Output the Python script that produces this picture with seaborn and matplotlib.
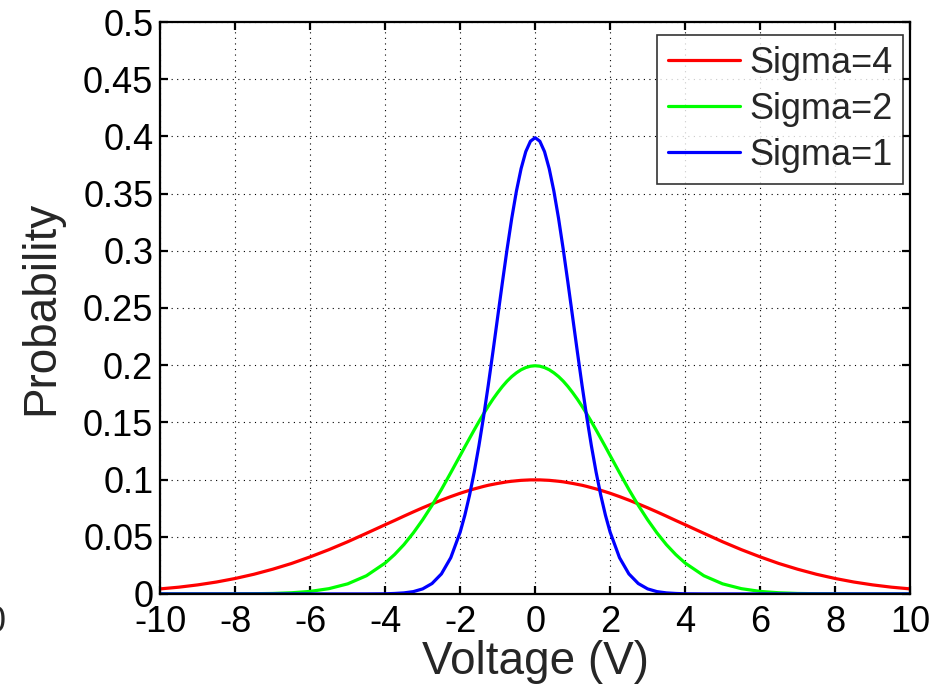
import matplotlib
matplotlib.use("Agg")
import matplotlib.pyplot as plt
import seaborn as sns
import pandas as pd

# voltage samples (finer near the peak)
voltage = [-10, -9.5, -9, -8.5, -8, -7.5, -7, -6.5, -6, -5.5, -5, -4.5,
           -4, -3.75, -3.5, -3.25, -3, -2.75, -2.5, -2.25,
           -2, -1.875, -1.75, -1.625, -1.5, -1.375, -1.25, -1.125,
           -1, -0.875, -0.75, -0.625, -0.5, -0.375, -0.25, -0.125, 0,
           0.125, 0.25, 0.375, 0.5, 0.625, 0.75, 0.875, 1,
           1.125, 1.25, 1.375, 1.5, 1.625, 1.75, 1.875, 2,
           2.25, 2.5, 2.75, 3, 3.25, 3.5, 3.75, 4,
           4.5, 5, 5.5, 6, 6.5, 7, 7.5, 8, 8.5, 9, 9.5, 10]

# probability
sigma4 = [0.0044, 0.0059, 0.0079, 0.0104, 0.0135, 0.0172, 0.0216, 0.0266, 0.0324, 0.0387, 0.0456, 0.0530,
          0.0605, 0.0642, 0.0680, 0.0717, 0.0753, 0.0787, 0.0820, 0.0851,
          0.0880, 0.0893, 0.0906, 0.0918, 0.0929, 0.0940, 0.0950, 0.0958,
          0.0966, 0.0973, 0.0980, 0.0985, 0.0989, 0.0993, 0.0995, 0.0997, 0.0997,
          0.0997, 0.0995, 0.0993, 0.0989, 0.0985, 0.0980, 0.0973, 0.0966,
          0.0958, 0.0950, 0.0940, 0.0929, 0.0918, 0.0906, 0.0893, 0.0880,
          0.0851, 0.0820, 0.0787, 0.0753, 0.0717, 0.0680, 0.0642, 0.0605,
          0.0530, 0.0456, 0.0387, 0.0324, 0.0266, 0.0216, 0.0172, 0.0135, 0.0104, 0.0079, 0.0059, 0.0044]
sigma2 = [0.0000, 0.0000, 0.0000, 0.0000, 0.0001, 0.0002, 0.0004, 0.0010, 0.0022, 0.0046, 0.0088, 0.0159,
          0.0270, 0.0344, 0.0431, 0.0533, 0.0648, 0.0775, 0.0913, 0.1060,
          0.1210, 0.1286, 0.1360, 0.1434, 0.1506, 0.1575, 0.1641, 0.1703,
          0.1760, 0.1813, 0.1860, 0.1900, 0.1933, 0.1960, 0.1979, 0.1991, 0.1995,
          0.1991, 0.1979, 0.1960, 0.1933, 0.1900, 0.1860, 0.1813, 0.1760,
          0.1703, 0.1641, 0.1575, 0.1506, 0.1434, 0.1360, 0.1286, 0.1210,
          0.1060, 0.0913, 0.0775, 0.0648, 0.0533, 0.0431, 0.0344, 0.0270,
          0.0159, 0.0088, 0.0046, 0.0022, 0.0010, 0.0004, 0.0002, 0.0001, 0.0000, 0.0000, 0.0000, 0.0000]
sigma1 = [0, 0, 0, 0, 0, 0, 0, 0, 0, 0, 0, 0,
          0.0001, 0.0004, 0.0009, 0.0020, 0.0044, 0.0091, 0.0175, 0.0317,
          0.0540, 0.0688, 0.0863, 0.1066, 0.1295, 0.1550, 0.1826, 0.2119,
          0.2420, 0.2720, 0.3011, 0.3282, 0.3521, 0.3718, 0.3867, 0.3958, 0.3989,
          0.3958, 0.3867, 0.3718, 0.3521, 0.3282, 0.3011, 0.2720, 0.2420,
          0.2119, 0.1826, 0.1550, 0.1295, 0.1066, 0.0863, 0.0688, 0.0540,
          0.0317, 0.0175, 0.0091, 0.0044, 0.0020, 0.0009, 0.0004, 0.0001,
          0, 0, 0, 0, 0, 0, 0, 0, 0, 0, 0, 0]

x_ticks = list(range(-10, 11, 2))
y_ticks = [0, 0.05, 0.1, 0.15, 0.2, 0.25, 0.3, 0.35, 0.4, 0.45, 0.5]
y_labels = ["0", "0.05", "0.1", "0.15", "0.2", "0.25", "0.3", "0.35", "0.4", "0.45", "0.5"]

df = pd.DataFrame({"Voltage": voltage, "Sigma=4": sigma4, "Sigma=2": sigma2, "Sigma=1": sigma1})
df = df.melt(id_vars="Voltage", var_name="series", value_name="Probability")

sns.set_style("ticks")
plt.rcParams["font.family"] = ["Liberation Sans", "DejaVu Sans"]
plt.rcParams["axes.linewidth"] = 1.6

fig = plt.figure(figsize=(9.48, 6.89), dpi=100)
ax = fig.add_axes([0.169, 0.138, 0.791, 0.830])

sns.lineplot(data=df, x="Voltage", y="Probability", hue="series",
             palette={"Sigma=4": "#ff0000", "Sigma=2": "#00ff00", "Sigma=1": "#0000ff"},
             hue_order=["Sigma=4", "Sigma=2", "Sigma=1"], linewidth=2.3, ax=ax)

ax.set_xlim(-10, 10)
ax.set_ylim(0, 0.5)
ax.set_xticks(x_ticks)
ax.set_xticklabels([str(t) for t in x_ticks])
ax.set_yticks(y_ticks)
ax.set_yticklabels(y_labels)
ax.tick_params(direction="in", length=6, width=1.6, labelsize=26, top=True, right=True,
               colors="black")
ax.tick_params(axis="x", pad=8)
ax.tick_params(axis="y", pad=5)
ax.grid(True, linestyle=(0, (1, 4)), color="black", linewidth=0.8)
for s in ax.spines.values():
    s.set_visible(True)
    s.set_color("black")

ax.set_xlabel("Voltage (V)", fontsize=33, labelpad=0)
ax.set_ylabel("Probability", fontsize=33, labelpad=14)

leg = ax.legend(loc="upper right", bbox_to_anchor=(0.991, 0.977), fontsize=26, frameon=True,
                fancybox=False, edgecolor="black", handlelength=2.0, borderpad=0.3,
                labelspacing=0.3, handletextpad=0.25, borderaxespad=0)
leg.get_frame().set_linewidth(1.2)
leg.set_title(None)

# stray clipped label at the left edge
fig.text(0.006, 0.097, "0", fontsize=26, ha="right", va="center")

fig.savefig("out.png", dpi=100)
